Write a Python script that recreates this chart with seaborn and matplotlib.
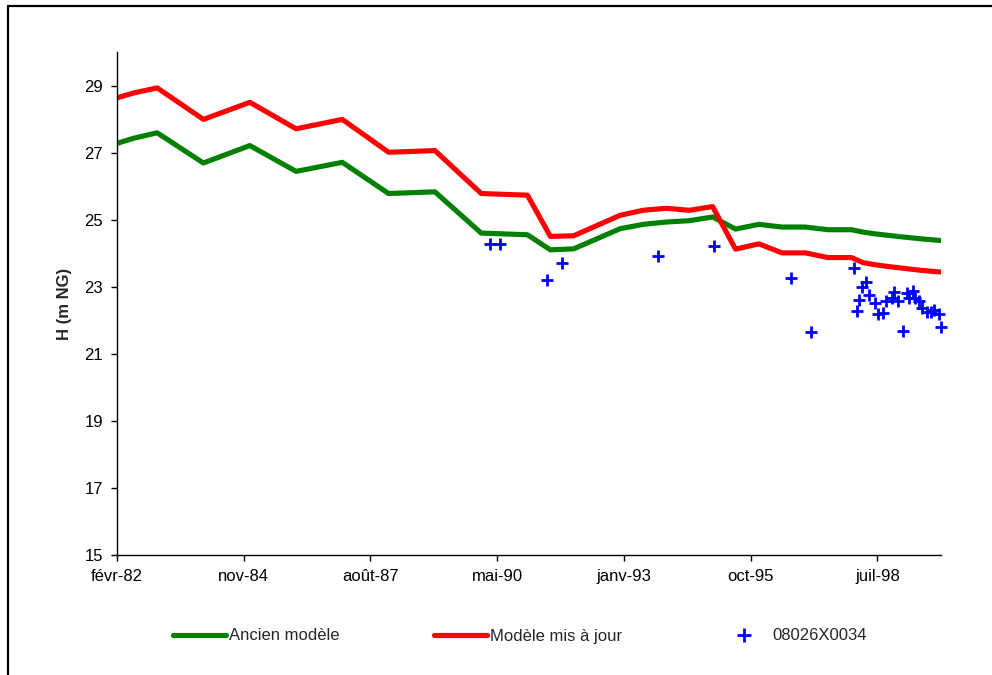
import matplotlib
matplotlib.use('Agg')
import matplotlib.pyplot as plt
import seaborn as sns
import pandas as pd
from matplotlib.lines import Line2D

# ---------------- data ----------------
model_dates = ['1982-01-01', '1982-07-01', '1983-01-01', '1984-01-01', '1985-01-01',
               '1986-01-01', '1987-01-01', '1988-01-01', '1989-01-01', '1990-01-01',
               '1991-01-01', '1991-07-01', '1992-01-01', '1993-01-01', '1993-07-01',
               '1994-01-01', '1994-07-01', '1995-01-01', '1995-07-01', '1996-01-01',
               '1996-07-01', '1997-01-01', '1997-07-01', '1998-01-01', '1998-04-01',
               '1998-07-01', '1998-10-01', '1999-01-01', '1999-07-01', '1999-12-01']
ancien_modele = [27.22, 27.43, 27.59, 26.69, 27.21,
                 26.44, 26.71, 25.78, 25.83, 24.60,
                 24.55, 24.10, 24.13, 24.73, 24.86,
                 24.93, 24.97, 25.08, 24.72, 24.86,
                 24.78, 24.78, 24.70, 24.70, 24.63,
                 24.58, 24.54, 24.50, 24.43, 24.38]
modele_maj = [28.58, 28.78, 28.93, 27.99, 28.50,
              27.71, 27.99, 27.01, 27.06, 25.78,
              25.73, 24.50, 24.52, 25.13, 25.28,
              25.34, 25.28, 25.39, 24.12, 24.28,
              24.01, 24.01, 23.87, 23.87, 23.72,
              23.66, 23.61, 23.57, 23.49, 23.44]

obs_dates = ['1990-03-14', '1990-05-26', '1991-06-05', '1991-10-02', '1993-10-29',
             '1995-01-10', '1996-09-12', '1997-02-19', '1998-01-17', '1998-02-13',
             '1998-03-03', '1998-03-25', '1998-04-25', '1998-05-21', '1998-07-02',
             '1998-08-02', '1998-09-03', '1998-09-30', '1998-11-16', '1998-11-29',
             '1999-01-02', '1999-02-08', '1999-03-14', '1999-03-27', '1999-05-05',
             '1999-05-19', '1999-06-19', '1999-07-15', '1999-08-19', '1999-09-22',
             '1999-10-18', '1999-11-19', '1999-12-05']
obs_values = [24.27, 24.27, 23.19, 23.71, 23.91,
              24.20, 23.26, 21.64, 23.57, 22.28,
              22.59, 22.99, 23.14, 22.74, 22.51,
              22.19, 22.22, 22.56, 22.66, 22.84,
              22.56, 21.69, 22.81, 22.66, 22.88,
              22.66, 22.56, 22.36, 22.26, 22.26,
              22.31, 22.19, 21.81]

xtick_labels = ['févr-82', 'nov-84', 'août-87', 'mai-90', 'janv-93', 'oct-95', 'juil-98']
yticks = [15, 17, 19, 21, 23, 25, 27, 29]

series_names = ['Ancien modèle', 'Modèle mis à jour', '08026X0034']
y_label = 'H (m NG)'

# ---------------- style ----------------
sns.set_style('ticks')
plt.rcParams['font.family'] = ['Liberation Sans', 'DejaVu Sans']
plt.rcParams['font.size'] = 12

GREEN = '#008000'
RED = '#ff0000'
BLUE = '#0000ff'

fig = plt.figure(figsize=(9.92, 6.75), dpi=100)
ax = fig.add_axes([117 / 992, 1 - 555 / 675, (940.7 - 117) / 992, (555 - 52) / 675])

df = pd.DataFrame({'date': pd.to_datetime(model_dates),
                   'ancien': ancien_modele, 'maj': modele_maj})
obs = pd.DataFrame({'date': pd.to_datetime(obs_dates), 'h': obs_values})

sns.lineplot(data=df, x='date', y='ancien', color=GREEN, lw=3.7, ax=ax, sort=False,
             solid_capstyle='round', solid_joinstyle='round', legend=False)
sns.lineplot(data=df, x='date', y='maj', color=RED, lw=3.7, ax=ax, sort=False,
             solid_capstyle='round', solid_joinstyle='round', legend=False)
sns.scatterplot(data=obs, x='date', y='h', marker='+', s=85, color=BLUE,
                linewidth=2.0, ax=ax, legend=False, zorder=5, clip_on=False)

# Excel-like date axis: serial 30000 .. 36500, major unit 1000 days
origin = pd.Timestamp('1899-12-30')
xmin = origin + pd.Timedelta(days=30000)
xmax = origin + pd.Timedelta(days=36500)
ax.set_xlim(xmin, xmax)
ax.set_xticks([origin + pd.Timedelta(days=30000 + 1000 * i) for i in range(len(xtick_labels))])
ax.set_xticklabels(xtick_labels)
ax.set_ylim(15, 30)
ax.set_yticks(yticks)
ax.set_yticklabels([str(v) for v in yticks])

ax.set_xlabel('')
ax.set_ylabel(y_label, fontweight='bold', fontsize=12)
ax.yaxis.set_label_coords(-0.055, 0.5)

for side in ['top', 'right']:
    ax.spines[side].set_visible(False)
for side in ['left', 'bottom']:
    ax.spines[side].set_color('black')
    ax.spines[side].set_linewidth(1.0)
ax.tick_params(axis='both', direction='out', length=4, width=1, color='black',
               labelcolor='black', labelsize=12)
ax.tick_params(axis='y', pad=6)
ax.tick_params(axis='x', pad=6)

# legend
handles = [Line2D([], [], color=GREEN, lw=3.7, solid_capstyle='round'),
           Line2D([], [], color=RED, lw=3.7, solid_capstyle='round'),
           Line2D([], [], color=BLUE, marker='+', ls='none', markersize=9.5, markeredgewidth=2.0)]
fig.legend(handles, series_names, loc='center', bbox_to_anchor=(520 / 992, 1 - 636 / 675),
           ncol=3, frameon=False, fontsize=12, handlelength=3.2, handletextpad=0.15,
           columnspacing=5.7)

# outer frame (partly outside the picture)
fig.add_artist(Line2D([7.5 / 992, 7.5 / 992], [-0.05, 1 - 5.5 / 675], color='black', lw=1.6,
                      transform=fig.transFigure))
fig.add_artist(Line2D([7.5 / 992, 1.05], [1 - 5.5 / 675, 1 - 5.5 / 675], color='black', lw=1.6,
                      transform=fig.transFigure))

fig.savefig('out.png', dpi=100)
